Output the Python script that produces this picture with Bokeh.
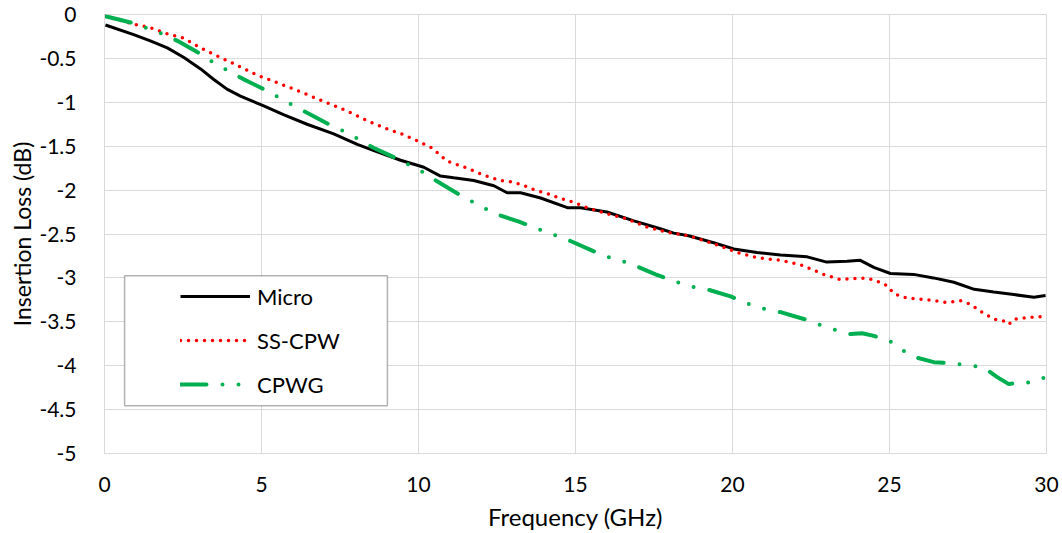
from bokeh.plotting import figure
from bokeh.models import (Range1d, FixedTicker, CustomJSTickFormatter, Legend,
                          LegendItem, BoxAnnotation)
from bokeh.embed import file_html
from bokeh.resources import INLINE

# ---------------- data ----------------
micro_f = [0.03, 0.93, 1.46, 2.0, 2.53, 3.06, 3.48, 3.9, 4.33, 5.07, 5.7, 6.45, 7.3, 8.05,
           8.58, 9.43, 10.17, 10.7, 11.12, 11.76, 12.4, 12.82, 13.25, 13.89, 14.74, 15.16,
           16.0, 16.86, 17.7, 18.13, 18.6, 19.4, 20.04, 20.78, 21.53, 22.38, 23.0, 23.65,
           24.07, 24.5, 25.03, 25.77, 26.4, 27.05, 27.7, 28.32, 28.96, 29.6, 29.97]
micro_v = [-0.12, -0.23, -0.30, -0.38, -0.49, -0.62, -0.74, -0.85, -0.93, -1.04, -1.14,
           -1.25, -1.36, -1.48, -1.55, -1.66, -1.74, -1.84, -1.86, -1.89, -1.95, -2.03,
           -2.03, -2.09, -2.20, -2.20, -2.25, -2.35, -2.44, -2.49, -2.52, -2.60, -2.67,
           -2.71, -2.74, -2.76, -2.82, -2.81, -2.80, -2.88, -2.95, -2.96, -3.00, -3.05,
           -3.13, -3.16, -3.19, -3.22, -3.20]

sscpw_f = [0.03, 0.93, 1.46, 2.0, 2.53, 3.06, 3.69, 4.12, 4.86, 5.6, 6.24, 6.98, 7.73,
           8.37, 8.9, 9.53, 9.96, 10.43, 10.91, 11.55, 12.08, 12.61, 12.88, 13.3, 13.78,
           14.04, 14.47, 14.95, 15.37, 16.0, 16.65, 17.28, 17.92, 18.6, 19.4, 20.15,
           20.78, 21.53, 22.17, 22.9, 23.44, 24.07, 24.5, 24.93, 25.14, 25.56, 26.2, 26.84,
           27.26, 27.58, 27.9, 28.32, 28.64, 28.8, 28.96, 29.49, 29.97]
sscpw_v = [-0.02, -0.11, -0.15, -0.22, -0.27, -0.38, -0.49, -0.56, -0.69, -0.79, -0.88,
           -0.99, -1.10, -1.21, -1.29, -1.37, -1.44, -1.52, -1.67, -1.75, -1.83, -1.89,
           -1.90, -1.94, -2.01, -2.03, -2.09, -2.14, -2.20, -2.27, -2.33, -2.42, -2.48,
           -2.52, -2.61, -2.71, -2.77, -2.80, -2.85, -2.96, -3.02, -3.00, -3.02, -3.09,
           -3.18, -3.23, -3.25, -3.28, -3.26, -3.30, -3.38, -3.47, -3.49, -3.53, -3.47,
           -3.45, -3.44]

cpwg_f = [0.03, 0.93, 1.84, 2.32, 3.06, 3.48, 4.39, 5.18, 6.03, 6.45, 7.25, 7.68, 8.58,
          9.37, 10.17, 10.59, 11.29, 12.18, 12.61, 13.2, 13.94, 14.84, 15.67, 16.11, 16.7,
          17.55, 18.08, 18.69, 19.19, 19.94, 20.73, 21.53, 22.48, 22.96, 23.76, 24.13,
          24.5, 25.01, 25.35, 25.78, 26.41, 26.84, 27.37, 28.0, 28.43, 28.8, 29.12, 29.49,
          29.97]
cpwg_v = [-0.02, -0.10, -0.22, -0.30, -0.45, -0.55, -0.73, -0.87, -1.04, -1.12, -1.27,
          -1.34, -1.52, -1.65, -1.80, -1.90, -2.05, -2.22, -2.29, -2.36, -2.46, -2.58,
          -2.71, -2.77, -2.83, -2.96, -3.03, -3.10, -3.13, -3.21, -3.33, -3.39, -3.49,
          -3.56, -3.64, -3.63, -3.66, -3.72, -3.81, -3.90, -3.96, -3.97, -3.99, -4.02,
          -4.13, -4.21, -4.19, -4.19, -4.13]

series_names = ["Micro", "SS-CPW", "CPWG"]

x_ticks = [0, 5, 10, 15, 20, 25, 30]
x_tick_labels = ["0", "5", "10", "15", "20", "25", "30"]
y_ticks = [0, -0.5, -1, -1.5, -2, -2.5, -3, -3.5, -4, -4.5, -5]
y_tick_labels = ["0", "-0.5", "-1", "-1.5", "-2", "-2.5", "-3", "-3.5", "-4", "-4.5", "-5"]

FONT = "Lato"
TICK_FS = "21px"
GRID = "#d9d9d9"

FMT_CODE = ("const i = tv.findIndex(t => Math.abs(t - tick) < 1e-9);"
            " return i >= 0 ? tl[i] : '';")

p = figure(width=1062, height=533, output_backend="svg", toolbar_location=None,
           x_range=Range1d(0, 30), y_range=Range1d(-5, 0),
           min_border_left=104, min_border_right=16, min_border_top=14,
           min_border_bottom=80)
p.background_fill_color = "white"
p.border_fill_color = "white"
p.outline_line_color = GRID

for ax in (p.xaxis[0], p.yaxis[0]):
    ax.axis_line_color = GRID
    ax.major_tick_line_color = None
    ax.minor_tick_line_color = None
    ax.major_label_text_font = FONT
    ax.major_label_text_font_size = TICK_FS
    ax.major_label_text_color = "#000000"
    ax.axis_label_text_font = FONT
    ax.axis_label_text_font_style = "normal"
    ax.axis_label_text_color = "#000000"

p.xaxis.axis_label_text_font_size = "24px"
p.yaxis.axis_label_text_font_size = "23px"

p.xaxis.ticker = FixedTicker(ticks=x_ticks)
p.xaxis.formatter = CustomJSTickFormatter(args=dict(tv=x_ticks, tl=x_tick_labels),
                                          code=FMT_CODE)
p.yaxis.ticker = FixedTicker(ticks=y_ticks)
p.yaxis.formatter = CustomJSTickFormatter(args=dict(tv=y_ticks, tl=y_tick_labels),
                                          code=FMT_CODE)
p.xaxis.axis_label = "Frequency (GHz)"
p.yaxis.axis_label = "Insertion Loss (dB)"
p.xaxis.major_label_standoff = 17
p.xaxis.axis_label_standoff = 7
p.yaxis.major_label_standoff = 22
p.yaxis.axis_label_standoff = 0

p.xgrid.ticker = FixedTicker(ticks=x_ticks)
p.ygrid.ticker = FixedTicker(ticks=y_ticks)
p.grid.grid_line_color = GRID
p.grid.grid_line_width = 1

r_micro = p.line(micro_f, micro_v, line_color="#000000", line_width=3)
r_ss = p.line(sscpw_f, sscpw_v, line_color="#ff0000", line_width=3.5,
              line_dash="0 8", line_cap="round")
r_cpwg = p.line(cpwg_f, cpwg_v, line_color="#00b050", line_width=4,
                line_dash="26 16 0 16 0 16", line_cap="round")

# legend frame (in data units derived from plot geometry)
box = BoxAnnotation(left=0.64, right=9.01, top=-2.975, bottom=-4.455,
                    fill_color="white", fill_alpha=1.0,
                    line_color="#000000", line_width=1.5, level="annotation")
p.add_layout(box)

legend = Legend(items=[LegendItem(label=series_names[0], renderers=[r_micro]),
                       LegendItem(label=series_names[1], renderers=[r_ss]),
                       LegendItem(label=series_names[2], renderers=[r_cpwg])],
                location=(76, 55), padding=0, margin=0, spacing=16,
                glyph_width=70, glyph_height=28, label_height=28,
                label_standoff=7, label_text_font=FONT, label_text_font_size="22px",
                label_text_color="#000000",
                border_line_alpha=0, background_fill_alpha=0)
p.add_layout(legend)

open("out.html", "w").write(file_html(p, INLINE))
